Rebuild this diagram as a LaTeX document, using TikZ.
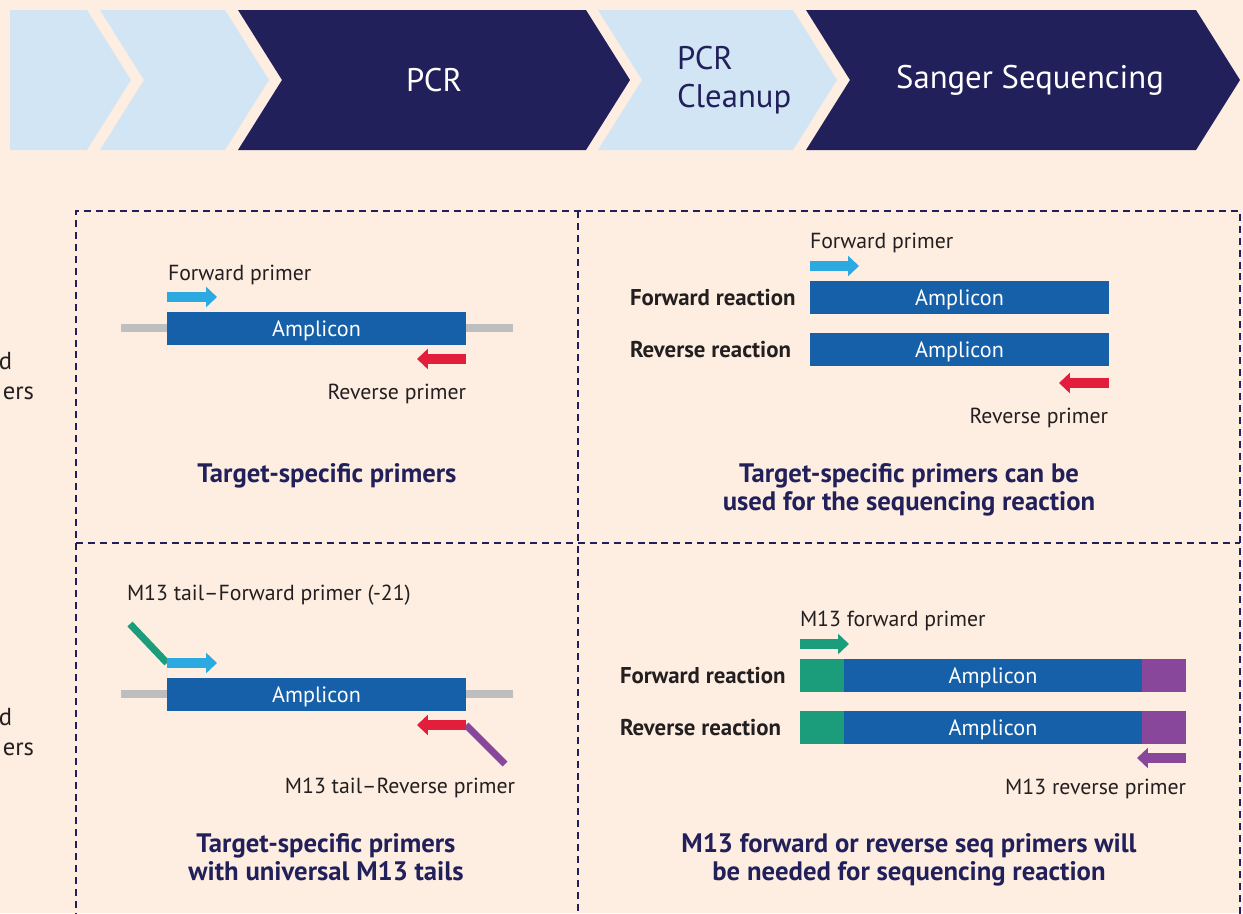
\documentclass[tikz,border=0pt]{standalone}
\usepackage{fontspec}
\setmainfont{PT Sans}
\usetikzlibrary{positioning,arrows.meta}
\definecolor{bgclr}{HTML}{FDEEE1}
\definecolor{paleclr}{HTML}{D1E5F5}
\definecolor{navyclr}{HTML}{22205A}
\definecolor{ampclr}{HTML}{1560A9}
\definecolor{fwdclr}{HTML}{2CA9E1}
\definecolor{revclr}{HTML}{E31D3C}
\definecolor{mfclr}{HTML}{1B9C7B}
\definecolor{mrclr}{HTML}{89479B}
\definecolor{dnaclr}{HTML}{BCBEC0}
\definecolor{txtclr}{HTML}{231F20}
\tikzset{ %
  ,every node/.style={inner sep=0, outer sep=0, font=\fontsize{12.4}{14}\selectfont, text=txtclr}
  ,banner/.style={font=\fontsize{18.6}{21.5}\selectfont}
  ,amp/.style={fill=ampclr, text=white, text depth=0pt, font=\fontsize{12.6}{14}\selectfont, minimum width=5.98cm, minimum height=0.66cm}
  ,endbox/.style={minimum width=0.88cm, minimum height=0.66cm}
  ,reaction/.style={font=\bfseries\fontsize{13}{15}\selectfont, anchor=base west}
  ,heading/.style={font=\bfseries\fontsize{15.2}{17}\selectfont, text=navyclr, anchor=base}
  ,primer/.style={line width=5.67pt, -{Triangle[length=6.2pt, width=11.3pt]}}
  ,tail/.style={line width=4pt}
  ,dna/.style={line width=4pt, dnaclr}
  ,grid/.style={navyclr, line width=0.85pt, dash pattern=on 4pt off 2.8pt}
}
\begin{document}
\begin{tikzpicture}[x=0.02cm, y=-0.02cm]
  \useasboundingbox (0,0) rectangle (1243,913);
  \fill[bgclr] (0,0) rectangle (1243,913);
  % workflow banner
  \fill[paleclr] (10,10) -- (87,10) -- (131,80) -- (87,150) -- (10,150) -- cycle;
  \foreach \l/\r/\c in {100/225/paleclr, 238/586/navyclr, 598/793/paleclr, 806/1196/navyclr}
    \fill[\c] (\l,10) -- (\r,10) -- (\r+44,80) -- (\r,150) -- (\l,150) -- (\l+44,80) -- cycle;
  \node[banner, text=white] (pcr) at (434,80) {PCR};
  \node[banner, text=navyclr, align=left, anchor=west] (cleanup) at (677,80) {PCR\\Cleanup};
  \node[banner, text=white] (sanger) at (1030,80) {Sanger Sequencing};
  % row labels, cut at the edge
  \node[anchor=base east, font=\fontsize{14}{16}\selectfont] (rowa1) at (12,369) {d};
  \node[anchor=base east, font=\fontsize{14}{16}\selectfont] (rowa2) at (34,399) {ers};
  \node[anchor=base east, font=\fontsize{14}{16}\selectfont] (rowb1) at (12,725) {d};
  \node[anchor=base east, font=\fontsize{14}{16}\selectfont] (rowb2) at (34,755) {ers};
  % dashed grid
  \draw[grid] (76,920) -- (76,211) -- (1240,211) -- (1240,920);
  \draw[grid] (578,211) -- (578,920);
  \draw[grid] (76,543) -- (1240,543);

  % target-specific primers
  \coordinate (dna1a) at (121,328);
  \coordinate (dna1b) at (513,328);
  \draw[dna] (dna1a) -- (dna1b);
  \node[amp] (amp1) at (316.5,328.5) {Amplicon};
  \coordinate (fp1a) at (167,297);
  \coordinate (fp1b) at (217,297);
  \draw[primer, fwdclr] (fp1a) -- (fp1b);
  \coordinate (rp1a) at (466,359);
  \coordinate (rp1b) at (417,359);
  \draw[primer, revclr] (rp1a) -- (rp1b);
  \node[anchor=base west] (fwd1) at (168,280) {Forward primer};
  \node[anchor=base east] (rev1) at (466,399) {Reverse primer};
  \node[heading] (head1) at (327,482) {Target-specific primers};

  % sequencing with target-specific primers
  \node[amp] (amp2a) at (959.5,297.5) {Amplicon};
  \node[amp] (amp2b) at (959.5,349.5) {Amplicon};
  \node[reaction] (fr2) at (630,305) {Forward reaction};
  \node[reaction] (rr2) at (630,357) {Reverse reaction};
  \coordinate (fp2a) at (810,266);
  \coordinate (fp2b) at (859,266);
  \draw[primer, fwdclr] (fp2a) -- (fp2b);
  \coordinate (rp2a) at (1109,383);
  \coordinate (rp2b) at (1059,383);
  \draw[primer, revclr] (rp2a) -- (rp2b);
  \node[anchor=base west] (fwd2) at (810,248) {Forward primer};
  \node[anchor=base east] (rev2) at (1108,423) {Reverse primer};
  \node[heading] (head2a) at (909,482) {Target-specific primers can be};
  \node[heading] (head2b) at (909,510) {used for the sequencing reaction};

  % M13 tailed primers
  \coordinate (dna3a) at (121,694);
  \coordinate (dna3b) at (513,694);
  \draw[dna] (dna3a) -- (dna3b);
  \node[amp] (amp3) at (316.5,694.5) {Amplicon};
  \coordinate (ft3) at (130,624);
  \coordinate (fp3a) at (167,663);
  \coordinate (fp3b) at (217,663);
  \draw[tail, mfclr] (ft3) -- (fp3a);
  \draw[primer, fwdclr] (fp3a) -- (fp3b);
  \coordinate (rt3) at (505,764);
  \coordinate (rp3a) at (466,725);
  \coordinate (rp3b) at (417,725);
  \draw[tail, mrclr] (rt3) -- (rp3a);
  \draw[primer, revclr] (rp3a) -- (rp3b);
  \node[anchor=base west] (fwd3) at (127,600) {M13 tail--Forward primer (-21)};
  \node[anchor=base east] (rev3) at (515,793) {M13 tail--Reverse primer};
  \node[heading] (head3a) at (326,852) {Target-specific primers};
  \node[heading] (head3b) at (326,880) {with universal M13 tails};

  % sequencing with M13 primers
  \node[endbox, fill=mfclr] (m13fa) at (822,675.5) {};
  \node[amp, minimum width=5.96cm, right=0pt of m13fa] (amp4a) {Amplicon};
  \node[endbox, fill=mrclr, right=0pt of amp4a] (m13ra) {};
  \node[endbox, fill=mfclr] (m13fb) at (822,727.5) {};
  \node[amp, minimum width=5.96cm, right=0pt of m13fb] (amp4b) {Amplicon};
  \node[endbox, fill=mrclr, right=0pt of amp4b] (m13rb) {};
  \node[reaction] (fr4) at (620,683) {Forward reaction};
  \node[reaction] (rr4) at (620,735) {Reverse reaction};
  \coordinate (fp4a) at (800,644);
  \coordinate (fp4b) at (849,644);
  \draw[primer, mfclr] (fp4a) -- (fp4b);
  \coordinate (rp4a) at (1186,758);
  \coordinate (rp4b) at (1137,758);
  \draw[primer, mrclr] (rp4a) -- (rp4b);
  \node[anchor=base west] (fwd4) at (800,626) {M13 forward primer};
  \node[anchor=base east] (rev4) at (1186,794) {M13 reverse primer};
  \node[heading] (head4a) at (909,852) {M13 forward or reverse seq primers will};
  \node[heading] (head4b) at (909,880) {be needed for sequencing reaction};
\end{tikzpicture}
\end{document}
